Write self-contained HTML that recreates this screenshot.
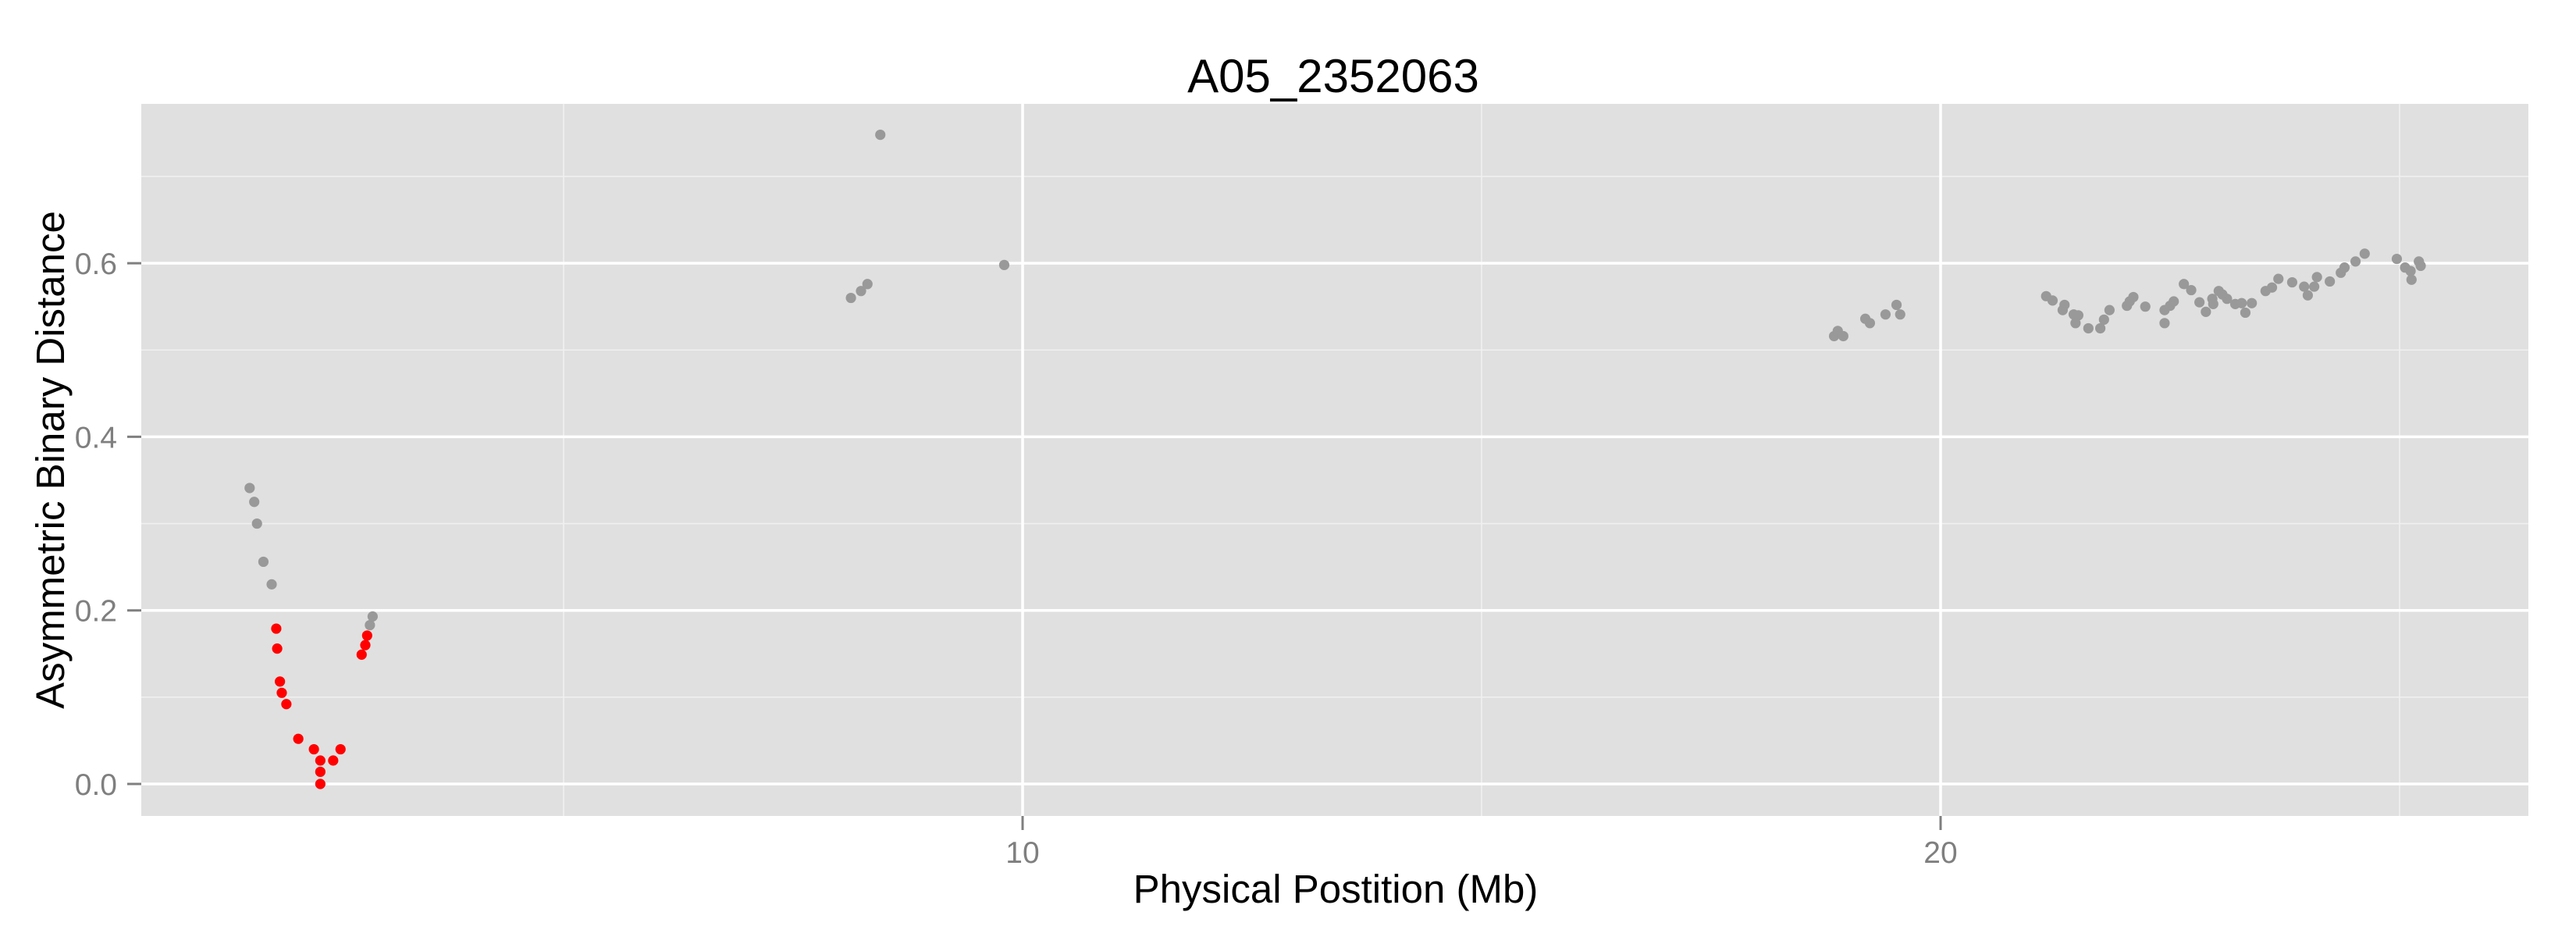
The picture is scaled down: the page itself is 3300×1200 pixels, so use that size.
<!DOCTYPE html>
<html><head><meta charset="utf-8"><style>
html,body{margin:0;padding:0;background:#fff;}
svg{display:block;font-family:"Liberation Sans",Arial,sans-serif;}
</style></head><body>
<svg id="chart" width="3300" height="1200" viewBox="0 0 3300 1200" xmlns="http://www.w3.org/2000/svg">
<rect x="0" y="0" width="3300" height="1200" fill="#fff"/>
<rect x="181" y="133" width="3058" height="912" fill="#e0e0e0"/>
<g id="grid"></g>
<g id="axes"></g>
<g id="points"></g>
<text x="1708" y="118" font-size="60" text-anchor="middle" fill="#000">A05_2352063</text>
<text x="1711" y="1156" font-size="51" text-anchor="middle" fill="#000">Physical Postition (Mb)</text>
<text transform="translate(82,589) rotate(-90)" font-size="51" text-anchor="middle" fill="#000">Asymmetric Binary Distance</text>
</svg>
<script>
const xTicks = [10, 20];
const xMinor = [5, 15, 25];
const yTicks = [0, 0.2, 0.4, 0.6];
const yMinor = [0.1, 0.3, 0.5, 0.7];
const yTickLabels = ["0.0", "0.2", "0.4", "0.6"];
const xTickLabels = ["10", "20"];
const grayX = [1.58,1.63,1.66,1.73,1.82,2.89,2.92,8.13,8.24,8.31,8.45,9.80,
18.84,18.88,18.94,19.18,19.23,19.40,19.52,19.56,
21.15,21.22,21.35,21.33,21.45,21.50,21.47,21.61,21.74,21.78,21.84,22.03,22.06,22.10,22.23,22.44,22.44,22.50,22.54,22.65,22.73,22.82,22.89,22.96,22.97,23.03,23.07,23.12,23.21,23.28,23.32,23.39,23.54,23.61,23.68,23.83,23.96,24.00,24.07,24.10,24.24,24.36,24.40,24.52,24.62,24.97,25.06,25.12,25.13,25.21,25.23];
const grayY = [0.341,0.325,0.300,0.256,0.230,0.183,0.193,0.560,0.568,0.576,0.748,0.598,
0.516,0.522,0.516,0.536,0.531,0.541,0.552,0.541,
0.562,0.557,0.552,0.546,0.541,0.540,0.531,0.525,0.525,0.535,0.546,0.551,0.556,0.561,0.550,0.546,0.531,0.551,0.556,0.576,0.569,0.555,0.544,0.559,0.553,0.568,0.564,0.559,0.553,0.554,0.543,0.554,0.568,0.572,0.582,0.578,0.573,0.563,0.573,0.584,0.579,0.589,0.595,0.602,0.611,0.605,0.595,0.591,0.581,0.602,0.597];
const redX = [1.87,1.88,1.91,1.93,1.98,2.11,2.28,2.35,2.35,2.35,2.49,2.57,2.80,2.84,2.86];
const redY = [0.179,0.156,0.118,0.105,0.092,0.052,0.040,0.027,0.014,0.000,0.027,0.040,0.149,0.160,0.171];

const PL=181, PR=3239, PT=133, PB=1045;
function sx(v){ return 134 + v*117.6; }
function sy(v){ return 1004 - v*1111.5; }
const NS="http://www.w3.org/2000/svg";
function mk(tag, attrs, parent){
  const e=document.createElementNS(NS,tag);
  for(const k in attrs) e.setAttribute(k,attrs[k]);
  parent.appendChild(e); return e;
}
const grid=document.getElementById('grid');
const axes=document.getElementById('axes');
const pts=document.getElementById('points');
yMinor.forEach(v=>{
  const l=mk('line',{x1:PL,x2:PR,y1:sy(v),y2:sy(v),stroke:'#f0f0f0','stroke-width':1.6},grid);
  
  
});
xMinor.forEach(v=>{
  const l=mk('line',{x1:sx(v),x2:sx(v),y1:PT,y2:PB,stroke:'#f0f0f0','stroke-width':1.6},grid);
  
  
});
yTicks.forEach((v,i)=>{
  const l=mk('line',{x1:PL,x2:PR,y1:sy(v),y2:sy(v),stroke:'#fff','stroke-width':3.5},grid);
  
  
  const t=mk('line',{x1:163,x2:PL,y1:sy(v),y2:sy(v),stroke:'#7f7f7f','stroke-width':3},axes);
  
  
  const tx=mk('text',{x:150,y:sy(v)+14,'font-size':39,'text-anchor':'end',fill:'#7f7f7f'},axes);
  tx.textContent=yTickLabels[i];
  
  
});
xTicks.forEach((v,i)=>{
  const l=mk('line',{x1:sx(v),x2:sx(v),y1:PT,y2:PB,stroke:'#fff','stroke-width':3.5},grid);
  
  
  const t=mk('line',{x1:sx(v),x2:sx(v),y1:PB,y2:1063,stroke:'#7f7f7f','stroke-width':3},axes);
  
  
  const tx=mk('text',{x:sx(v),y:1105,'font-size':39,'text-anchor':'middle',fill:'#7f7f7f'},axes);
  tx.textContent=xTickLabels[i];
  
  
});
grayX.forEach((v,i)=>{
  const c=mk('circle',{cx:sx(v),cy:sy(grayY[i]),r:6.6,fill:'#999999'},pts);
  
  
});
redX.forEach((v,i)=>{
  const c=mk('circle',{cx:sx(v),cy:sy(redY[i]),r:6.6,fill:'#ff0000'},pts);
  
  
});
</script>
</body></html>
